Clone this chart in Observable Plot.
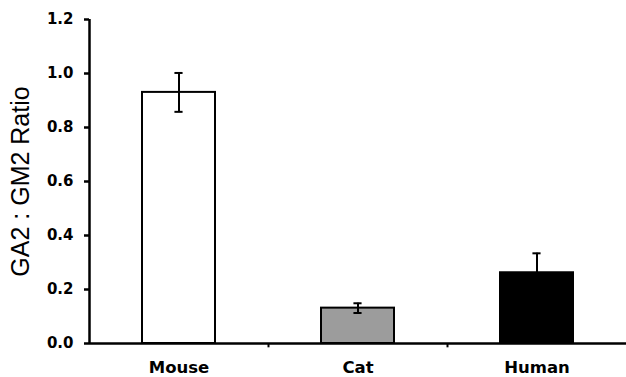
<!DOCTYPE html>
<html>
<head>
<meta charset="utf-8">
<script src="https://cdn.jsdelivr.net/npm/d3@7"></script>
<script src="https://cdn.jsdelivr.net/npm/@observablehq/plot@0.6"></script>
<style>
  html, body { margin: 0; padding: 0; background: #fff; }
  svg { display: block; }
</style>
</head>
<body>
<div id="chart"></div>
<script>
const categories = ["Mouse", "Cat", "Human"];
const means = [0.93, 0.131, 0.262];
const errors = [0.072, 0.018, 0.072];
const fills = ["#ffffff", "#9c9c9c", "#000000"];
const yTicks = [0, 0.2, 0.4, 0.6, 0.8, 1.0, 1.2];
const yLabel = "GA2 : GM2 Ratio";

const data = categories.map((c, i) => ({
  cat: c, mean: means[i], lo: means[i] - errors[i], hi: means[i] + errors[i], fill: fills[i]
}));

const W = 626, H = 377;
const mL = 89, mR = 0, mT = 19, mB = 34;
const pad = 0.593;
const step = (W - mL - mR) / categories.length;
const bw = step * (1 - pad);
const capHalf = 4;

const chart = Plot.plot({
  width: W,
  height: H,
  marginLeft: mL,
  marginRight: mR,
  marginTop: mT,
  marginBottom: mB,
  style: { background: "#fff", color: "#000" },
  x: { domain: categories, paddingInner: pad, paddingOuter: pad / 2, label: null, axis: null },
  y: { domain: [0, 1.2], label: null, axis: null },
  marks: [
    Plot.barY(data, { x: "cat", y: "mean", fill: "fill", stroke: "#000", strokeWidth: 2 }),
    Plot.ruleX(data, { x: "cat", y1: "lo", y2: "hi", stroke: "#000", strokeWidth: 2 }),
    Plot.tickY(data, { x: "cat", y: "hi", stroke: "#000", strokeWidth: 2, insetLeft: bw / 2 - capHalf, insetRight: bw / 2 - capHalf }),
    Plot.tickY(data, { x: "cat", y: "lo", stroke: "#000", strokeWidth: 2, insetLeft: bw / 2 - capHalf, insetRight: bw / 2 - capHalf }),
    Plot.axisY({ ticks: yTicks, tickFormat: d3.format(".1f"), tickSize: 5, tickPadding: 11, strokeWidth: 2.5,
      fontSize: 15, fontWeight: "bold", fontFamily: "DejaVu Sans, sans-serif", label: null }),
    Plot.axisX({ tickSize: 0, tickPadding: 18, fontSize: 16.5, fontWeight: "bold",
      fontFamily: "DejaVu Sans, sans-serif", label: null }),
    Plot.ruleX(categories.slice(1), { x: d => d, dx: -step / 2, y1: 0, y2: -0.016, stroke: "#000", strokeWidth: 2 }),
    Plot.ruleX([categories[0]], { x: d => d, dx: -step / 2, y1: 0, y2: 1.2, stroke: "#000", strokeWidth: 2.5 }),
    Plot.ruleY([0], { stroke: "#000", strokeWidth: 2.5 }),
    Plot.text([yLabel], { frameAnchor: "left", textAnchor: "middle", dx: -69, rotate: -90, fontSize: 25,
      fontFamily: "Liberation Sans, Arial, sans-serif", fill: "#000" })
  ]
});
document.getElementById("chart").appendChild(chart);
</script>
</body>
</html>
